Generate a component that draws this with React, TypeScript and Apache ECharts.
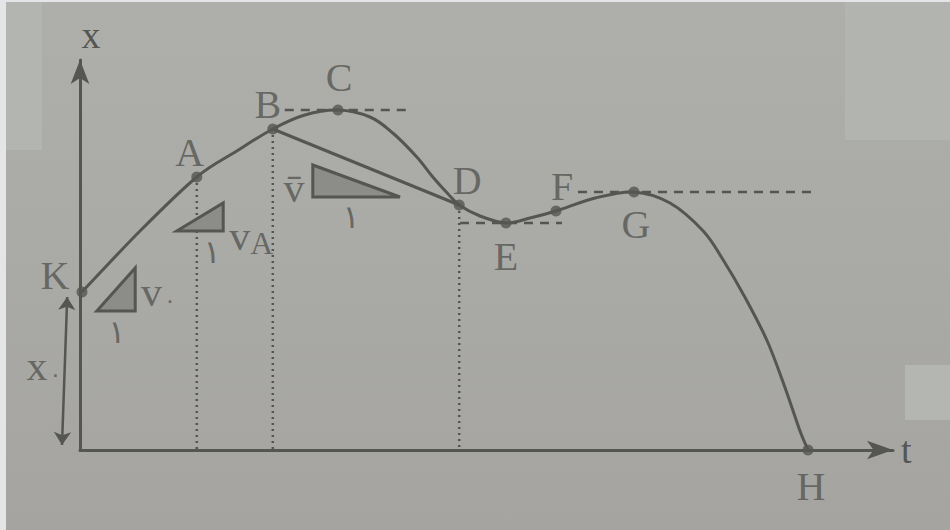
import { useEffect, useRef } from "react";
import * as echarts from "echarts";

// Named points on the position–time curve
const pointNames = ["K", "A", "B", "C", "D", "E", "F", "G", "H"];
const pointT = [0.25, 14.6, 24.1, 32.25, 47.4, 53.25, 59.5, 69.25, 91];
const pointX = [39.5, 68.25, 80.25, 85, 61.25, 56.75, 59.75, 64.5, 0];

// Traced path x(t)
const curveT = [0.25, 7.5, 14.6, 19.4, 24.1, 28.1, 32.25, 36.25, 39.1, 42.1, 44.1, 45.9, 47.4, 50, 53.25, 56.25, 59.5, 64.4, 69.25, 73.75, 77.9, 80.4, 83.1, 85.9, 88.1, 90, 91];
const curveX = [39.5, 54.75, 68.25, 74.5, 80.25, 83.75, 85, 83.25, 79.25, 73.25, 68.25, 64.25, 61.25, 58.5, 56.75, 58, 59.75, 63, 64.5, 61.75, 54.75, 47.5, 38.25, 27.25, 15.75, 4.75, 0];

// Horizontal tangents at C, E, G: [tStart, tEnd, x]
const tangents = [
  [25.6, 41.25, 85],
  [47.5, 60.25, 56.75],
  [62.25, 91.5, 64.5],
];

// Points dropped onto the t axis
const dropNames = ["A", "B", "D"];

// Slope triangles: three vertices (t, x)
const triangles = [
  [2.1, 34.75, 6.9, 34.75, 6.9, 45.5],
  [12.1, 54.75, 17.9, 54.75, 17.9, 61.75],
  [29.1, 71.25, 29.1, 63.25, 40, 63.25],
];

// Annotation texts placed at (t, x)
const notes: [number, number, string][] = [
  [9.8, 39.5, "{v|v}{s|٠}"],
  [4.6, 29.5, "{n|١}"],
  [21.4, 53.5, "{v|v}{a|A}"],
  [16.5, 49.5, "{n|١}"],
  [26.75, 65.5, "{v|v\u0304}"],
  [33.9, 58.25, "{n|١}"],
  [-4.5, 21, "{v|x}{s|٠}"],
];

// Initial-position span x0 next to the axis
const x0Span = [
  [-1.6, 38.25],
  [-2.25, 1.25],
];

const labelOffsets: Record<string, [number, number]> = {
  K: [-27, -17],
  A: [-7, -25],
  B: [-5, -25],
  C: [1, -33],
  D: [8, -25],
  E: [0, 33],
  F: [6, -25],
  G: [2, 32],
  H: [3, 36],
};

const INK = "#555652";
const SERIF = "'Liberation Serif', 'DejaVu Serif', serif";

// Smooth path (Catmull-Rom as cubic Béziers) through already-projected points
function smoothPath(pts: number[][]): string {
  let d = `M${pts[0][0]},${pts[0][1]}`;
  for (let i = 0; i < pts.length - 1; i++) {
    const p0 = pts[Math.max(0, i - 1)];
    const p1 = pts[i];
    const p2 = pts[i + 1];
    const p3 = pts[Math.min(pts.length - 1, i + 2)];
    const c1x = p1[0] + (p2[0] - p0[0]) / 6;
    const c1y = p1[1] + (p2[1] - p0[1]) / 6;
    const c2x = p2[0] - (p3[0] - p1[0]) / 6;
    const c2y = p2[1] - (p3[1] - p1[1]) / 6;
    d += ` C${c1x},${c1y} ${c2x},${c2y} ${p2[0]},${p2[1]}`;
  }
  return d;
}

export default function App() {
  const ref = useRef<HTMLDivElement>(null);

  useEffect(() => {
    if (!ref.current) return;
    const chart = echarts.init(ref.current, undefined, { renderer: "svg" });

    const idx = (n: string) => pointNames.indexOf(n);

    const series: any[] = [];

    tangents.forEach((tg) => {
      series.push({
        type: "line",
        data: [
          [tg[0], tg[2]],
          [tg[1], tg[2]],
        ],
        symbol: "none",
        lineStyle: { color: INK, width: 2.5, type: [9, 7] },
        z: 2,
      });
    });

    dropNames.forEach((n) => {
      const i = idx(n);
      series.push({
        type: "line",
        data: [
          [pointT[i], pointX[i]],
          [pointT[i], 0],
        ],
        symbol: "none",
        lineStyle: { color: INK, width: 2.5, type: [2, 4] },
        z: 2,
      });
    });

    // Average-velocity chord B–D
    const b = idx("B");
    const d = idx("D");
    series.push({
      type: "line",
      data: [
        [pointT[b], pointX[b]],
        [pointT[d], pointX[d]],
      ],
      symbol: "none",
      lineStyle: { color: INK, width: 3 },
      z: 3,
    });

    // The path x(t)
    series.push({
      type: "custom",
      data: curveT.map((t, i) => [t, curveX[i]]),
      encode: { x: 0, y: 1 },
      renderItem: (p: any, api: any) => {
        if (p.dataIndex !== 0) return null;
        const pts = curveT.map((t, i) => api.coord([t, curveX[i]]));
        return {
          type: "path",
          shape: { pathData: smoothPath(pts) },
          style: { fill: "none", stroke: INK, lineWidth: 3 },
        };
      },
      z: 3,
    });

    // Slope triangles
    series.push({
      type: "custom",
      data: triangles,
      encode: { x: [0, 2, 4], y: [1, 3, 5] },
      renderItem: (_p: any, api: any) => {
        const pts = [0, 1, 2].map((k) => api.coord([api.value(2 * k), api.value(2 * k + 1)]));
        return {
          type: "polygon",
          shape: { points: pts },
          style: { fill: "#8c8d88", stroke: INK, lineWidth: 3, lineJoin: "miter" },
        };
      },
      z: 3,
    });

    // Marked points with their letters
    series.push({
      type: "scatter",
      data: pointNames.map((n, i) => ({
        value: [pointT[i], pointX[i]],
        name: n,
        label: { offset: labelOffsets[n] },
      })),
      symbolSize: 11,
      itemStyle: { color: INK },
      label: {
        show: true,
        position: "inside",
        formatter: (p: any) => p.name,
        color: INK,
        fontFamily: SERIF,
        fontSize: 40,
      },
      clip: false,
      z: 5,
    });

    // Velocity / unit annotations
    series.push({
      type: "scatter",
      data: notes.map((n) => ({ value: [n[0], n[1]], name: n[2] })),
      symbolSize: 0,
      label: {
        show: true,
        position: "inside",
        formatter: (p: any) => p.name,
        color: INK,
        rich: {
          v: { fontFamily: SERIF, fontSize: 42, color: INK },
          a: { fontFamily: SERIF, fontSize: 32, color: INK, padding: [14, 0, 0, 0] },
          s: { fontFamily: "'DejaVu Sans', sans-serif", fontSize: 22, color: INK, padding: [16, 0, 0, 2] },
          n: { fontFamily: "'DejaVu Sans', sans-serif", fontSize: 32, color: INK },
        },
      },
      clip: false,
      z: 5,
    });

    // x0 double arrow
    series.push({
      type: "lines",
      coordinateSystem: "cartesian2d",
      data: [{ coords: x0Span }],
      symbol: ["arrow", "arrow"],
      symbolSize: 13,
      lineStyle: { color: INK, width: 2.5, opacity: 1 },
      clip: false,
      z: 4,
    });

    chart.setOption({
      animation: false,
      backgroundColor: new echarts.graphic.LinearGradient(0, 0, 0, 1, [
        { offset: 0, color: "#aeafaa" },
        { offset: 1, color: "#a5a4a1" },
      ]),
      graphic: [
        { type: "rect", shape: { x: 845, y: 0, width: 105, height: 140 }, style: { fill: "#b2b4af" }, z: -10 },
        { type: "rect", shape: { x: 6, y: 0, width: 36, height: 150 }, style: { fill: "#b3b5b1" }, z: -10 },
        { type: "rect", shape: { x: 905, y: 365, width: 45, height: 55 }, style: { fill: "#b4b6b1" }, z: -10 },
        { type: "rect", shape: { x: 0, y: 0, width: 6, height: 530 }, style: { fill: "#e4e5e7" }, z: -9 },
        { type: "rect", shape: { x: 0, y: 0, width: 950, height: 2 }, style: { fill: "#e4e5e7" }, z: -9 },
      ],
      grid: { left: 80, right: 57, top: 60, bottom: 80 },
      xAxis: {
        type: "value",
        min: 0,
        max: 101.625,
        name: "t",
        nameLocation: "end",
        nameGap: 8,
        nameTextStyle: { fontFamily: SERIF, fontSize: 38, color: INK, verticalAlign: "middle" },
        axisLine: {
          show: true,
          onZero: false,
          symbol: ["none", "arrow"],
          symbolSize: [14, 26],
          lineStyle: { color: INK, width: 3 },
        },
        axisTick: { show: false },
        axisLabel: { show: false },
        splitLine: { show: false },
      },
      yAxis: {
        type: "value",
        min: 0,
        max: 97.5,
        name: "x",
        nameLocation: "end",
        nameGap: 6,
        nameTextStyle: { fontFamily: SERIF, fontSize: 38, color: INK, padding: [0, 0, 0, 22] },
        axisLine: {
          show: true,
          onZero: false,
          symbol: ["none", "arrow"],
          symbolSize: [14, 24],
          lineStyle: { color: INK, width: 3 },
        },
        axisTick: { show: false },
        axisLabel: { show: false },
        splitLine: { show: false },
      },
      series,
    });

    return () => chart.dispose();
  }, []);

  return (
    <div style={{ position: "fixed", left: 0, top: 0, width: 950, height: 530 }}>
      <div ref={ref} style={{ width: 950, height: 530 }} />
    </div>
  );
}
